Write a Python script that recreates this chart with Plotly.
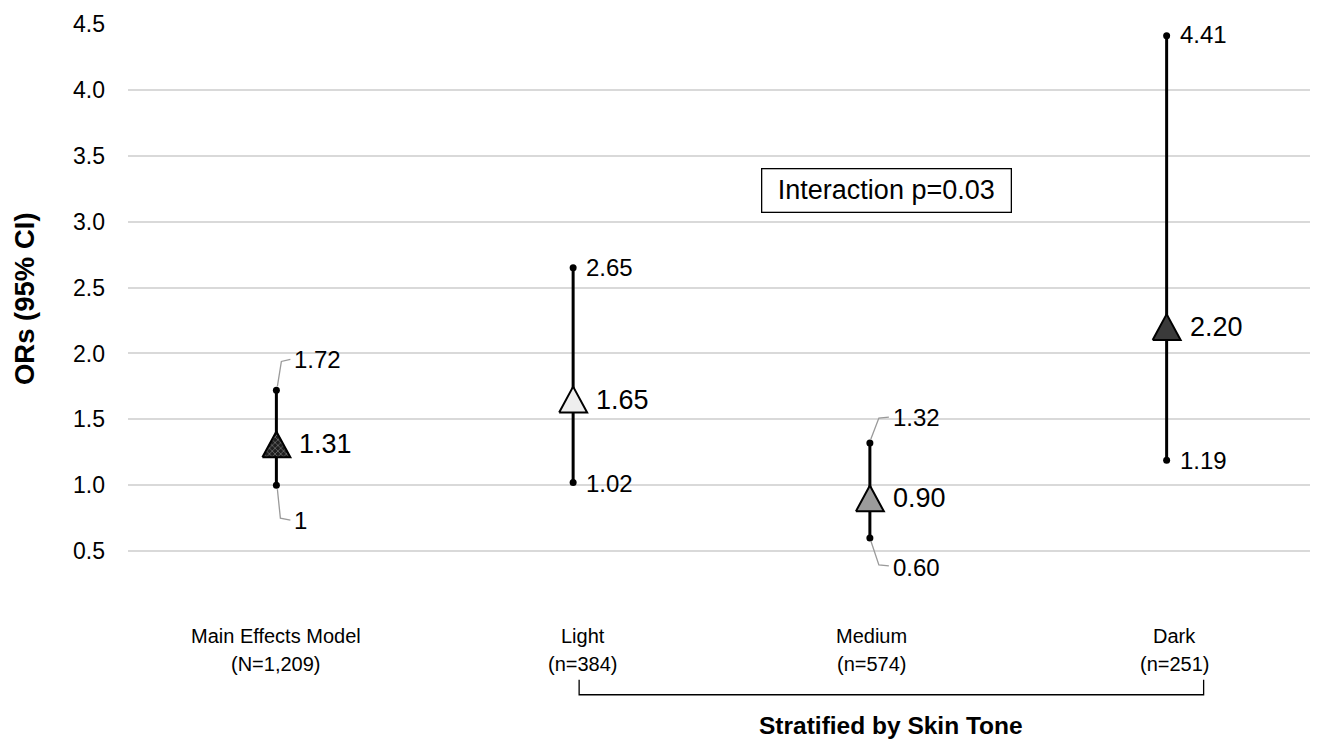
import plotly.graph_objects as go

# ---------------- data ----------------
groups = ["Main Effects Model", "Light", "Medium", "Dark"]
group_n = ["(N=1,209)", "(n=384)", "(n=574)", "(n=251)"]
or_est = [1.31, 1.65, 0.90, 2.20]
ci_low = [1.00, 1.02, 0.60, 1.19]
ci_high = [1.72, 2.65, 1.32, 4.41]
est_labels = ["1.31", "1.65", "0.90", "2.20"]
low_labels = ["1", "1.02", "0.60", "1.19"]
high_labels = ["1.72", "2.65", "1.32", "4.41"]
y_ticks = [0.5, 1.0, 1.5, 2.0, 2.5, 3.0, 3.5, 4.0, 4.5]
interaction_text = "Interaction p=0.03"
bracket_title = "Stratified by Skin Tone"
y_title = "ORs (95% CI)"

# ---------------- layout constants ----------------
# page body has an 8px default margin, so the figure is 8px smaller
W, H = 1310, 736
ML, MR, MT, MB = 120, 3, 14, 127
PW, PH = W - ML - MR, H - MT - MB
XR = [-0.5, 3.5]
YR = [0, 4.5]
px2x = (XR[1] - XR[0]) / PW
px2y = (YR[1] - YR[0]) / PH
FONT = "Liberation Sans, Arial, sans-serif"

xs = list(range(len(groups)))
fig = go.Figure()

# CI lines
lx, ly = [], []
for x, lo, hi in zip(xs, ci_low, ci_high):
    lx += [x, x, None]
    ly += [lo, hi, None]
fig.add_trace(go.Scatter(x=lx, y=ly, mode="lines",
                         line=dict(color="black", width=3), hoverinfo="skip"))

# CI end dots
fig.add_trace(go.Scatter(x=xs + xs, y=ci_low + ci_high, mode="markers",
                         marker=dict(color="black", size=7), hoverinfo="skip"))

# leader lines (pixel offsets: dx right, dy up)
leaders = {
    0: ([(1, 4), (5, 29), (14, 31)], [(1, -4), (4, -33), (14, -35)]),
    2: ([(1, 4), (9, 25), (19, 26)], [(1, -3), (9, -27), (19, -28)]),
}
gx, gy = [], []
for i, (up, dn) in leaders.items():
    for pts, base in ((up, ci_high[i]), (dn, ci_low[i])):
        for dx, dy in pts:
            gx.append(xs[i] + dx * px2x)
            gy.append(base + dy * px2y)
        gx.append(None)
        gy.append(None)
fig.add_trace(go.Scatter(x=gx, y=gy, mode="lines",
                         line=dict(color="#9a9a9a", width=1.3), hoverinfo="skip"))

# triangles
fills = ["#1e1e1e", "#eeeeee", "#9b9b9b", "#3a3a3a"]
half_w, half_h = 14, 13
for i, (x, v) in enumerate(zip(xs, or_est)):
    tx = [x - half_w * px2x, x + half_w * px2x, x, x - half_w * px2x]
    ty = [v - half_h * px2y, v - half_h * px2y, v + half_h * px2y, v - half_h * px2y]
    kw = {}
    if i == 0:
        kw["fillpattern"] = dict(shape="x", bgcolor="#1e1e1e", fgcolor="#bdbdbd",
                                 size=4, solidity=0.35)
    fig.add_trace(go.Scatter(x=tx, y=ty, mode="lines", fill="toself",
                             fillcolor=fills[i],
                             line=dict(color="black", width=2), hoverinfo="skip", **kw))

ann = []
# point estimate labels
for x, v, t in zip(xs, or_est, est_labels):
    ann.append(dict(x=x, y=v, text=t, showarrow=False, xanchor="left", yanchor="middle",
                    xshift=21, font=dict(size=27, color="black", family=FONT)))
# CI labels
hi_shift = [(16, 31), (11, 0), (21, 26), (11, 1)]
lo_shift = [(16, -35), (11, -1), (21, -30), (11, 0)]
for i in xs:
    ann.append(dict(x=xs[i], y=ci_high[i], text=high_labels[i], showarrow=False,
                    xanchor="left", yanchor="middle", xshift=hi_shift[i][0],
                    yshift=hi_shift[i][1], font=dict(size=24, color="black", family=FONT)))
    ann.append(dict(x=xs[i], y=ci_low[i], text=low_labels[i], showarrow=False,
                    xanchor="left", yanchor="middle", xshift=lo_shift[i][0],
                    yshift=lo_shift[i][1], font=dict(size=24, color="black", family=FONT)))
# category labels (two lines, placed separately)
cat_shift = [0, 10, 2, 8]
for i in xs:
    for txt, dy in ((groups[i], -19), (group_n[i], -47)):
        ann.append(dict(x=xs[i], y=0, yref="paper", text=txt,
                        showarrow=False, xanchor="center", yanchor="middle",
                        xshift=cat_shift[i], yshift=dy,
                        font=dict(size=20, color="black", family=FONT)))
# bracket
bx0 = xs[1] + 6 * px2x
bx1 = xs[3] + 37 * px2x
by0 = -63 / PH
by1 = -78 / PH
shapes = [dict(type="path", xref="x", yref="paper",
               path=f"M {bx0},{by0} L {bx0},{by1} L {bx1},{by1} L {bx1},{by0}",
               line=dict(color="black", width=1.3))]
ann.append(dict(x=(bx0 + bx1) / 2, y=-109 / PH, yref="paper", text="<b>" + bracket_title + "</b>",
                showarrow=False, xanchor="center", yanchor="middle",
                font=dict(size=24.5, color="black", family=FONT)))
# interaction box
ann.append(dict(x=xs[2] + 17 * px2x, y=3.24, text=interaction_text, showarrow=False,
                xanchor="center", yanchor="middle", bordercolor="black", borderwidth=1.3,
                borderpad=6, bgcolor="white", width=236,
                font=dict(size=27, color="black", family=FONT)))
# y axis title
ann.append(dict(x=0, xref="paper", y=1 - (298 - 22) / PH, yref="paper",
                text="<b>" + y_title + "</b>", textangle=-90,
                showarrow=False, xanchor="center", yanchor="middle", xshift=-104,
                font=dict(size=27.5, color="black", family=FONT)))

fig.update_layout(
    width=W, height=H, margin=dict(l=ML, r=MR, t=MT, b=MB),
    paper_bgcolor="white", plot_bgcolor="white", showlegend=False,
    font=dict(family=FONT, color="black"),
    xaxis=dict(range=XR, showticklabels=False, showgrid=False, zeroline=False,
               showline=False, ticks=""),
    yaxis=dict(range=YR, tickvals=y_ticks, ticktext=[f"{v:.1f}" for v in y_ticks],
               showgrid=True, gridcolor="#d9d9d9", gridwidth=1.5, zeroline=False,
               showline=False, ticks="", ticklabelstandoff=22,
               tickfont=dict(size=23, color="black", family=FONT)),
    annotations=ann, shapes=shapes,
)
fig.write_html("out.html")
